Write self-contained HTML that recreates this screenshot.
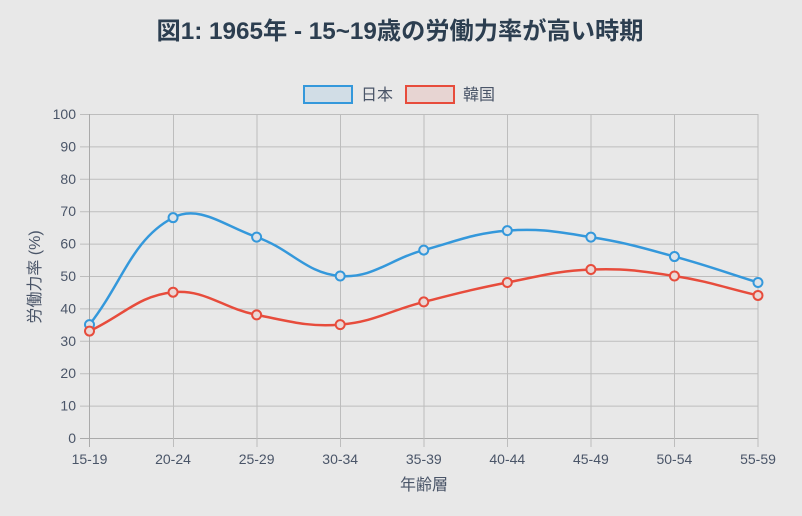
<!DOCTYPE html>
<html><head><meta charset="utf-8"><style>
html,body{margin:0;padding:0;background:#e8e8e8;}
svg{display:block;}
text{font-family:"Liberation Sans","Noto Sans CJK JP",sans-serif;}
</style></head><body>
<svg width="802" height="516" viewBox="0 0 802 516" xmlns="http://www.w3.org/2000/svg">
<rect width="802" height="516" fill="#e8e8e8"/>
<text x="400" y="39" text-anchor="middle" font-size="24" font-weight="bold" fill="#2c3e50" textLength="487" lengthAdjust="spacingAndGlyphs">図1: 1965年 - 15~19歳の労働力率が高い時期</text>
<!-- legend -->
<rect x="304" y="86" width="48" height="17" fill="rgba(52,152,219,0.12)" stroke="#3498db" stroke-width="2"/>
<text x="361" y="100" font-size="16" fill="#4a5568">日本</text>
<rect x="406" y="86" width="48" height="17" fill="rgba(231,76,60,0.12)" stroke="#e74c3c" stroke-width="2"/>
<text x="463" y="100" font-size="16" fill="#4a5568">韓国</text>
<!-- grid -->
<g stroke="#bdbdbd" stroke-width="1">
<line x1="80" y1="114.5" x2="758" y2="114.5"/>
<line x1="80" y1="146.9" x2="758" y2="146.9"/>
<line x1="80" y1="179.3" x2="758" y2="179.3"/>
<line x1="80" y1="211.7" x2="758" y2="211.7"/>
<line x1="80" y1="244.1" x2="758" y2="244.1"/>
<line x1="80" y1="276.5" x2="758" y2="276.5"/>
<line x1="80" y1="308.9" x2="758" y2="308.9"/>
<line x1="80" y1="341.3" x2="758" y2="341.3"/>
<line x1="80" y1="373.7" x2="758" y2="373.7"/>
<line x1="80" y1="406.1" x2="758" y2="406.1"/>
<line x1="80" y1="438.5" x2="758" y2="438.5" stroke="#aaaaaa"/>
<line x1="89.5" y1="114" x2="89.5" y2="447" stroke="#aaaaaa"/>
<line x1="173.5" y1="114" x2="173.5" y2="447"/>
<line x1="257" y1="114" x2="257" y2="447"/>
<line x1="340.5" y1="114" x2="340.5" y2="447"/>
<line x1="424" y1="114" x2="424" y2="447"/>
<line x1="507.5" y1="114" x2="507.5" y2="447"/>
<line x1="591" y1="114" x2="591" y2="447"/>
<line x1="674.5" y1="114" x2="674.5" y2="447"/>
<line x1="758" y1="114" x2="758" y2="447"/>
</g>
<!-- y tick labels -->
<g font-size="14" fill="#4a5568" text-anchor="end">
<text x="76" y="119">100</text>
<text x="76" y="151.4">90</text>
<text x="76" y="183.8">80</text>
<text x="76" y="216.2">70</text>
<text x="76" y="248.6">60</text>
<text x="76" y="281">50</text>
<text x="76" y="313.4">40</text>
<text x="76" y="345.8">30</text>
<text x="76" y="378.2">20</text>
<text x="76" y="410.6">10</text>
<text x="76" y="443">0</text>
</g>
<!-- x tick labels -->
<g font-size="14" fill="#4a5568" text-anchor="middle">
<text x="89.5" y="464">15-19</text>
<text x="173" y="464">20-24</text>
<text x="256.6" y="464">25-29</text>
<text x="340.2" y="464">30-34</text>
<text x="423.8" y="464">35-39</text>
<text x="507.3" y="464">40-44</text>
<text x="590.9" y="464">45-49</text>
<text x="674.4" y="464">50-54</text>
<text x="758" y="464">55-59</text>
</g>
<text x="424" y="490" font-size="16" fill="#4a5568" text-anchor="middle">年齢層</text>
<text transform="translate(40,277) rotate(-90)" font-size="16" fill="#4a5568" text-anchor="middle">労働力率 (%)</text>
<!-- series -->
<path d="M89.5,324.6 C122.93,281.83 132.10,239.12 173.06,217.68 C198.95,204.13 224.41,225.88 256.63,237.12 C291.26,249.20 305.89,273.34 340.19,276 C372.75,278.52 389.99,259.24 423.75,250.08 C456.84,241.10 473.50,233.26 507.31,230.64 C540.35,228.08 557.84,232.00 590.88,237.12 C624.69,242.36 641.35,247.58 674.44,256.56 C708.20,265.72 724.58,272.11 758,282.48" fill="none" stroke="#3498db" stroke-width="2.5"/>
<path d="M89.5,331.08 C122.93,315.53 138.60,295.54 173.06,292.2 C205.45,289.06 222.72,308.31 256.63,314.88 C289.57,321.27 307.25,327.15 340.19,324.6 C374.10,321.97 390.18,310.38 423.75,301.92 C457.02,293.53 473.65,289.01 507.31,282.48 C540.50,276.05 557.30,270.82 590.88,269.52 C624.16,268.23 641.40,270.88 674.44,276 C708.25,281.24 724.58,287.66 758,295.44" fill="none" stroke="#e74c3c" stroke-width="2.5"/>
<g fill="#dde3e9" stroke="#3498db" stroke-width="2">
<circle cx="89.5" cy="324.6" r="4.5"/>
<circle cx="173.06" cy="217.68" r="4.5"/>
<circle cx="256.63" cy="237.12" r="4.5"/>
<circle cx="340.19" cy="276" r="4.5"/>
<circle cx="423.75" cy="250.08" r="4.5"/>
<circle cx="507.31" cy="230.64" r="4.5"/>
<circle cx="590.88" cy="237.12" r="4.5"/>
<circle cx="674.44" cy="256.56" r="4.5"/>
<circle cx="758" cy="282.48" r="4.5"/>
</g>
<g fill="#ead8d6" stroke="#e74c3c" stroke-width="2">
<circle cx="89.5" cy="331.08" r="4.5"/>
<circle cx="173.06" cy="292.2" r="4.5"/>
<circle cx="256.63" cy="314.88" r="4.5"/>
<circle cx="340.19" cy="324.6" r="4.5"/>
<circle cx="423.75" cy="301.92" r="4.5"/>
<circle cx="507.31" cy="282.48" r="4.5"/>
<circle cx="590.88" cy="269.52" r="4.5"/>
<circle cx="674.44" cy="276" r="4.5"/>
<circle cx="758" cy="295.44" r="4.5"/>
</g>
</svg>
</body></html>
